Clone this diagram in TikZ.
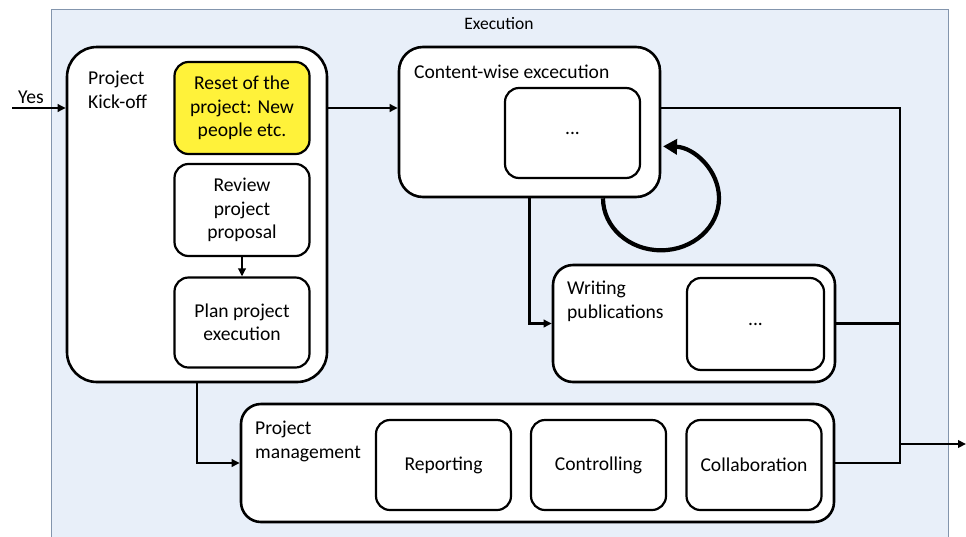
\documentclass[tikz,border=0pt]{standalone}
\usepackage{fontspec}
\setmainfont{Carlito}
\usepackage{tikz}
\usetikzlibrary{positioning, arrows.meta}
\definecolor{exfill}{HTML}{E8EFF9}
\definecolor{exborder}{HTML}{8395AD}
\definecolor{resetyellow}{HTML}{FFF23A}

\begin{document}
\begin{tikzpicture}[
    x=1pt, y=1pt,
    every node/.style={font=\fontsize{19.6}{23.5}\selectfont},
    outer/.style={rectangle, draw, line width=2.6pt, fill=white, rounded corners=24pt},
    block/.style={rectangle, draw, line width=2.2pt, fill=white, rounded corners=14pt, minimum width=135pt, minimum height=90pt, align=center, inner sep=2pt},
    title/.style={anchor=north west, align=left, inner sep=0pt},
    line/.style={draw, line width=2.3pt},
    conn/.style={line, -{Triangle[length=8pt,width=7.5pt]}},
    loop/.style={draw, line width=4.2pt, -{Triangle[length=14pt,width=15pt]}}
    ]
    \useasboundingbox (0,0) rectangle (966,-536);

    % background
    \node[rectangle, draw=exborder, line width=1pt, fill=exfill, minimum width=897pt, minimum height=540pt] (exec) at (499.5,-279) {};
    \node[font=\fontsize{17.5}{21}\selectfont] (exectitle) at (499,-24) {Execution};

    % kick-off
    \node[outer, rounded corners=30pt, minimum width=260pt, minimum height=335pt] (kickoff) at (197,-214.5) {};
    \node[title] (kotitle) at (88,-71) {Project\\Kick-off};
    \node[block, fill=resetyellow, minimum height=92pt] (reset) at (242,-108) {Reset of the\\project: New\\people etc.};
    \node[block, minimum height=92pt] (review) at (242,-210) {Review\\project\\proposal};
    \node[block] (plan) at (242,-322.5) {Plan project\\execution};

    % content-wise execution
    \node[outer, minimum width=261pt, minimum height=150pt] (cw) at (529.5,-122) {};
    \node[title] (cwtitle) at (414,-65) {Content-wise excecution};
    \node[block] (cwin) at (572.5,-133) {...};

    % writing publications
    \node[outer, rounded corners=20pt, minimum width=282pt, minimum height=117pt] (wp) at (694,-323.5) {};
    \node[title] (wptitle) at (567,-281) {Writing\\publications};
    \node[block, minimum width=137pt, minimum height=92pt] (wpin) at (755.5,-324) {...};

    % project management
    \node[outer, rounded corners=20pt, minimum width=593pt, minimum height=118pt] (pm) at (537.5,-463) {};
    \node[title] (pmtitle) at (255,-421) {Project\\management};
    \node[block] (rep) at (443.5,-465) {Reporting};
    \node[block] (ctrl) at (598.5,-465) {Controlling};
    \node[block] (collab) at (754,-465) {Collaboration};

    % free ends
    \coordinate (yes) at (12,-108);
    \coordinate (bustop) at (900,-108);
    \coordinate (busbot) at (900,-463);
    \coordinate (out) at (966,-444);
    \node[anchor=south] (yeslabel) at (31,-107) {Yes};

    % connectors
    \draw[conn] (yes) -- (yes -| kickoff.west);
    \draw[conn] (yes -| kickoff.east) -- (yes -| cw.west);
    \draw[conn] (review) -- (plan);
    \draw[conn] (kickoff.south) |- (pm.west);
    \draw[conn] (cw.south) |- (wp.west);
    \draw[line] (cw.east |- bustop) -- (bustop) -- (busbot) -- (pm.east |- busbot);
    \draw[line] (wp.east) -- (wp.east -| bustop);
    \draw[conn] (out -| bustop) -- (out);
    \draw[loop] ([xshift=73.5pt]cw.south) arc[start angle=180, end angle=448, x radius=58, y radius=52];
\end{tikzpicture}
\end{document}
